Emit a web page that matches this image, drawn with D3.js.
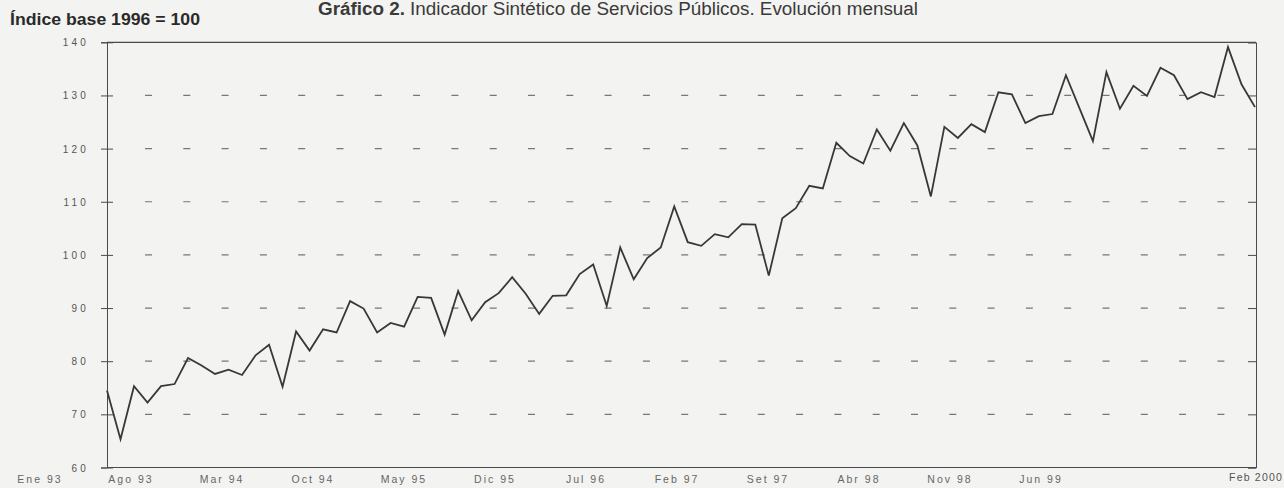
<!DOCTYPE html>
<html><head><meta charset="utf-8">
<script src="https://cdn.jsdelivr.net/npm/d3@7"></script>
<style>html,body{margin:0;padding:0;background:#f3f3f1;}svg{display:block}</style>
</head><body><svg id="c" width="1284" height="488"></svg>
<script>
const titleBold = "Gráfico 2.";
const titleRest = " Indicador Sintético de Servicios Públicos. Evolución mensual";
const yAxisTitle = "Índice base 1996 = 100";
const yTicks = [60, 70, 80, 90, 100, 110, 120, 130, 140];
const gridTicks = [70, 80, 90, 100, 110, 120, 130];
const xTickLabels = ["Ene 93", "Ago 93", "Mar 94", "Oct 94", "May 95", "Dic 95", "Jul 96", "Feb 97", "Set 97", "Abr 98", "Nov 98", "Jun 99"];
const lastTickLabel = "Feb 2000";
const monthNames = ["Ene","Feb","Mar","Abr","May","Jun","Jul","Ago","Set","Oct","Nov","Dic"];
const years = ["93","94","95","96","97","98","99","2000"];
const values = [
  74.5, 65.3, 75.3, 72.2, 75.3, 75.7, 80.6, 79.2, 77.6, 78.4, 77.4, 81.1,
  83.1, 75.2, 85.6, 82.0, 86.0, 85.4, 91.3, 89.9, 85.4, 87.2, 86.5, 92.1,
  91.9, 85.0, 93.2, 87.7, 91.1, 92.8, 95.8, 92.7, 88.9, 92.3, 92.4, 96.4,
  98.2, 90.4, 101.4, 95.4, 99.4, 101.4, 109.1, 102.4, 101.7, 103.9, 103.3, 105.8,
  105.7, 96.1, 106.9, 108.8, 113.0, 112.5, 121.1, 118.6, 117.2, 123.6, 119.6, 124.8,
  120.6, 111.0, 124.1, 122.0, 124.6, 123.1, 130.6, 130.2, 124.8, 126.1, 126.5, 133.8,
  127.6, 121.4, 134.4, 127.5, 131.8, 129.9, 135.2, 133.8, 129.3, 130.6, 129.7, 139.1,
  132.1, 127.8
];
const categories = values.map((v, i) => monthNames[i % 12] + " " + years[Math.floor(i / 12)]);

const svg = d3.select("#c");
const mLeft = 107, mRight = 1256, mTop = 42.3, mBottom = 467.5;
const x = d3.scalePoint().domain(categories).range([mLeft, 1255]);
const y = d3.scaleLinear().domain([60, 140]).range([mBottom, mTop]);
const labelX = d3.scalePoint().domain(xTickLabels).range([40, 1041]);
const ink = "#4a4a4a";

// title
const t = svg.append("text").attr("x", 318).attr("y", 15)
  .attr("font-family", "Liberation Sans, Arial, sans-serif").attr("font-size", 18)
  .attr("fill", "#3a3a3a").attr("textLength", 600).attr("lengthAdjust", "spacingAndGlyphs");
t.append("tspan").attr("font-weight", "bold").text(titleBold);
t.append("tspan").text(titleRest);

svg.append("text").attr("x", 10).attr("y", 25)
  .attr("font-family", "Liberation Sans, Arial, sans-serif").attr("font-size", 16)
  .attr("font-weight", "bold").attr("fill", "#2a2a2a")
  .attr("textLength", 190).attr("lengthAdjust", "spacingAndGlyphs").text(yAxisTitle);

// grid dashes
svg.append("g").selectAll("line").data(gridTicks).join("line")
  .attr("x1", 145).attr("x2", 1252)
  .attr("y1", d => y(d)).attr("y2", d => y(d))
  .attr("stroke", "#777").attr("stroke-width", 1.2)
  .attr("stroke-dasharray", "7,31.3");

// left axis
const gl = svg.append("g").attr("transform", `translate(${mLeft},0)`)
  .call(d3.axisLeft(y).tickValues(yTicks).tickSize(6).tickPadding(12).tickFormat(d3.format("d")));
gl.select(".domain").attr("stroke", ink);
gl.selectAll(".tick line").attr("x1", 6).attr("x2", -6).attr("stroke", ink);
gl.selectAll(".tick text").attr("font-family", "Liberation Sans, Arial, sans-serif")
  .attr("font-size", 10).attr("letter-spacing", 3.2).attr("fill", "#555").attr("dy", "0.35em");

// right axis
const gr = svg.append("g").attr("transform", `translate(${mRight},0)`)
  .call(d3.axisRight(y).tickValues(yTicks).tickSize(-8).tickFormat(""));
gr.select(".domain").attr("stroke", ink);
gr.selectAll(".tick line").attr("stroke", ink);

// top and bottom frame
svg.append("line").attr("x1", mLeft).attr("x2", mRight).attr("y1", y(140)).attr("y2", y(140))
  .attr("stroke", ink).attr("stroke-width", 1.2);
svg.append("line").attr("x1", mLeft).attr("x2", mRight).attr("y1", y(60)).attr("y2", y(60))
  .attr("stroke", ink).attr("stroke-width", 1.2);

// x labels
const lbl = svg.append("g").attr("font-family", "Liberation Sans, Arial, sans-serif")
  .attr("font-size", 10.5).attr("fill", "#666").attr("letter-spacing", 2);
lbl.selectAll("text").data(xTickLabels).join("text")
  .attr("x", d => labelX(d)).attr("y", 483).attr("text-anchor", "middle").text(d => d);
lbl.append("text").attr("x", x(categories[categories.length - 1]) + 28).attr("y", 481)
  .attr("text-anchor", "end").attr("letter-spacing", 1.2).attr("fill", "#555").text(lastTickLabel);

// series line
svg.append("path").datum(values)
  .attr("fill", "none").attr("stroke", "#383838").attr("stroke-width", 1.8)
  .attr("stroke-linejoin", "miter")
  .attr("d", d3.line().x((d, i) => x(categories[i])).y(d => y(d)));
</script></body></html>
